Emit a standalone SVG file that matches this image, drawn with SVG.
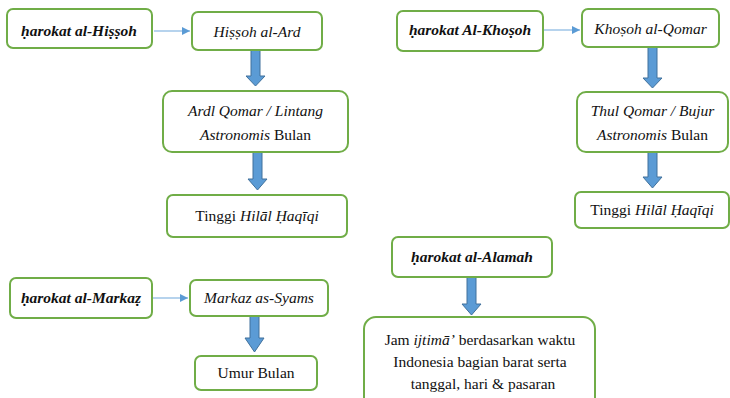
<svg xmlns="http://www.w3.org/2000/svg" width="730" height="398" viewBox="0 0 730 398">
<style>
.box{fill:#fff;stroke:#70ad47;stroke-width:2}
.thin{stroke:#6fa8dc;stroke-width:1.2;fill:none}
.blk{fill:#5b9bd5;stroke:#41719c;stroke-width:1}
</style>
<defs>
<marker id="ah" viewBox="0 0 10 10" refX="10" refY="5" markerWidth="8" markerHeight="8" markerUnits="userSpaceOnUse" orient="auto">
<path d="M0,0 L10,5 L0,10 z" fill="#5b9bd5"/>
</marker>
</defs>
<g id="connectors">
<line class="thin" x1="154" y1="31" x2="190" y2="31" marker-end="url(#ah)"/>
<line class="thin" x1="544" y1="30" x2="580" y2="30" marker-end="url(#ah)"/>
<line class="thin" x1="153" y1="298" x2="188" y2="298" marker-end="url(#ah)"/>
<path class="blk" d="M251,50 H260 V76 H265 L255.5,86 L246,76 H251 Z"/>
<path class="blk" d="M253,152 H262 V179 H267 L257.5,190 L248,179 H253 Z"/>
<path class="blk" d="M648,47 H657 V78 H662 L652.5,88 L643,78 H648 Z"/>
<path class="blk" d="M648,152 H657 V177 H662 L652.5,188 L643,177 H648 Z"/>
<path class="blk" d="M250,316 H259 V338 H264 L254.5,352 L245,338 H250 Z"/>
<path class="blk" d="M467,277 H476 V304 H481 L471.5,315 L462,304 H467 Z"/>
</g>
<g id="nodes" font-family="Liberation Serif, serif" font-size="15.5" fill="#111" text-anchor="middle">
<g id="n1"><rect class="box" x="7" y="9" width="145" height="39" rx="6"/><text x="79" y="36" font-weight="bold" font-style="italic">ḥarokat al-Hiṣṣoh</text></g>
<g id="n2"><rect class="box" x="192" y="12" width="130" height="38" rx="6"/><text x="257" y="37" font-style="italic">Hiṣṣoh al-Ard</text></g>
<g id="n3"><rect class="box" x="163" y="91" width="185" height="61" rx="9"/><text x="255.5" y="116" font-style="italic">Ardl Qomar / Lintang</text><text x="255.5" y="140"><tspan font-style="italic">Astronomis</tspan> Bulan</text></g>
<g id="n4"><rect class="box" x="167" y="195" width="180" height="42" rx="6"/><text x="257" y="221">Tinggi <tspan font-style="italic">Hilāl Ḥaqīqi</tspan></text></g>
<g id="n5"><rect class="box" x="397" y="11" width="146" height="40" rx="6"/><text x="470" y="35" font-weight="bold" font-style="italic">ḥarokat Al-Khoṣoh</text></g>
<g id="n6"><rect class="box" x="582" y="9" width="137" height="38" rx="6"/><text x="650.5" y="34" font-style="italic">Khoṣoh al-Qomar</text></g>
<g id="n7"><rect class="box" x="577" y="92" width="151" height="60" rx="9"/><text x="652.5" y="116" font-style="italic">Thul Qomar / Bujur</text><text x="652.5" y="140"><tspan font-style="italic">Astronomis</tspan> Bulan</text></g>
<g id="n8"><rect class="box" x="575" y="192" width="154" height="36" rx="6"/><text x="652" y="215">Tinggi <tspan font-style="italic">Hilāl Ḥaqīqi</tspan></text></g>
<g id="n9"><rect class="box" x="10" y="278" width="142" height="40" rx="6"/><text x="81" y="303" font-weight="bold" font-style="italic">ḥarokat al-Markaẓ</text></g>
<g id="n10"><rect class="box" x="190" y="280" width="138" height="36" rx="6"/><text x="259" y="303" font-style="italic">Markaz as-Syams</text></g>
<g id="n11"><rect class="box" x="195" y="356" width="122" height="34" rx="6"/><text x="256" y="378">Umur Bulan</text></g>
<g id="n12"><rect class="box" x="392" y="237" width="160" height="40" rx="6"/><text x="472" y="262" font-weight="bold" font-style="italic">ḥarokat al-Alamah</text></g>
<g id="n13"><rect class="box" x="364" y="317" width="231" height="95" rx="12"/><text x="480" y="345">Jam <tspan font-style="italic">ijtimā’</tspan> berdasarkan waktu</text><text x="480" y="367">Indonesia bagian barat serta</text><text x="483" y="389">tanggal, hari &amp; pasaran</text></g>
</g>
</svg>
